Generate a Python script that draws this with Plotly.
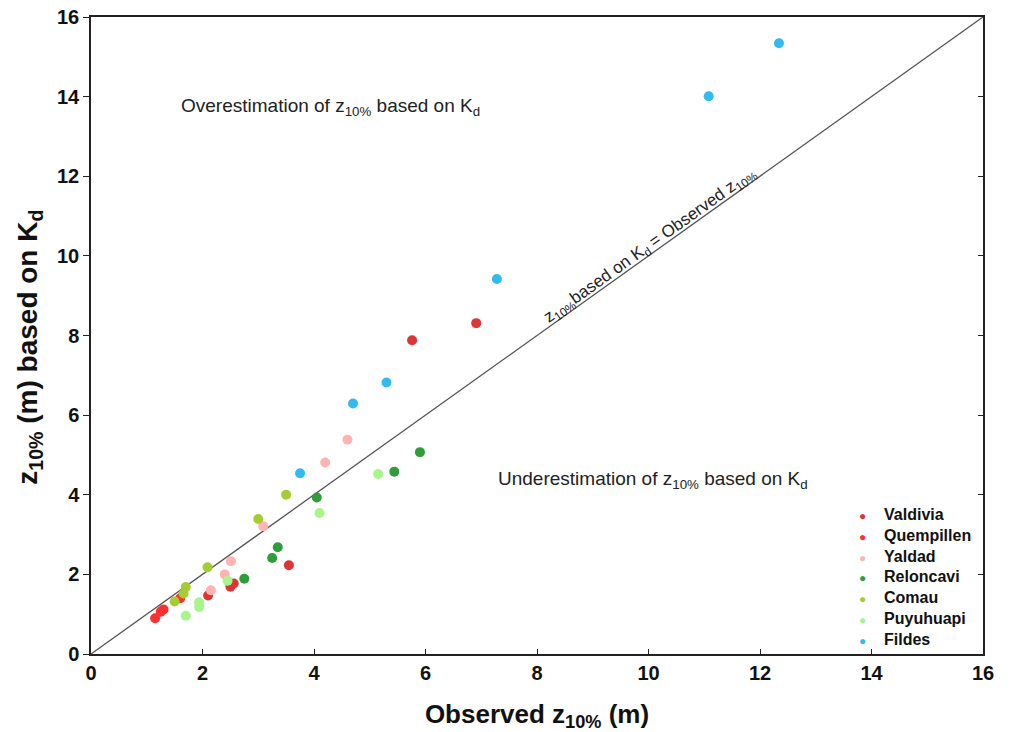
import plotly.graph_objects as go

sites = ["Valdivia", "Quempillen", "Yaldad", "Reloncavi", "Comau", "Puyuhuapi", "Fildes"]
colors = ["#dc3535", "#ff3030", "#ffb3b3", "#2e9e3a", "#a6cc33", "#a8f58a", "#33bbef"]

obs = {
    "Valdivia":   [5.76, 6.91, 3.55, 2.56, 2.50, 2.10],
    "Quempillen": [1.60, 1.30, 1.25, 1.15],
    "Yaldad":     [4.60, 4.20, 3.09, 2.51, 2.40, 2.15],
    "Reloncavi":  [5.90, 5.44, 4.05, 3.35, 3.25, 2.75],
    "Comau":      [3.50, 3.00, 2.09, 1.70, 1.66, 1.50],
    "Puyuhuapi":  [5.15, 4.10, 2.45, 1.94, 1.94, 1.70],
    "Fildes":     [12.34, 11.08, 7.28, 5.30, 4.70, 3.75],
}
kd = {
    "Valdivia":   [7.88, 8.31, 2.23, 1.77, 1.69, 1.47],
    "Quempillen": [1.40, 1.12, 1.06, 0.90],
    "Yaldad":     [5.38, 4.81, 3.21, 2.33, 2.00, 1.60],
    "Reloncavi":  [5.07, 4.58, 3.93, 2.68, 2.41, 1.89],
    "Comau":      [4.00, 3.39, 2.18, 1.68, 1.52, 1.32],
    "Puyuhuapi":  [4.52, 3.54, 1.84, 1.30, 1.18, 0.96],
    "Fildes":     [15.34, 14.01, 9.42, 6.82, 6.29, 4.54],
}
ticks = [0, 2, 4, 6, 8, 10, 12, 14, 16]
one_to_one = [0, 16]

fig = go.Figure()
fig.add_trace(go.Scatter(x=one_to_one, y=one_to_one, mode="lines",
                         line=dict(color="#555555", width=1.3),
                         showlegend=False, hoverinfo="skip"))
for s, c in zip(sites, colors):
    fig.add_trace(go.Scatter(x=obs[s], y=kd[s], mode="markers", name=s,
                             showlegend=False,
                             marker=dict(color=c, size=10, line=dict(width=0))))

fig.add_trace(go.Scatter(x=[None], y=[None], yaxis="y2", showlegend=False))

# compact legend (tight row spacing as in the reference)
legend_text = "<br>".join(
    f"<span style='color:{c};font-size:12px'>●</span>&nbsp;&nbsp;&nbsp;&nbsp;<b>{s}</b>"
    for s, c in zip(sites, colors)
)

font_fam = "Liberation Sans, Arial, sans-serif"
fig.update_layout(
    width=1003, height=724,
    margin=dict(l=83, r=28, t=9, b=78, autoexpand=False),
    paper_bgcolor="white", plot_bgcolor="white",
    font=dict(family=font_fam, color="#111111"),
    showlegend=False,
    xaxis=dict(range=[0, 16], tickvals=ticks, ticks="inside", ticklen=5,
               tickcolor="#222", showline=True, linecolor="#222", linewidth=1.5,
               mirror=True, showgrid=False, zeroline=False, automargin=False,
               ticklabeloverflow="allow",
               tickfont=dict(size=20, family=font_fam, color="#111", weight="bold"),
               title=dict(text="<b>Observed z<sub>10%</sub> (m)</b>",
                          font=dict(size=26), standoff=26)),
    yaxis=dict(range=[0, 16], tickvals=ticks, ticks="outside", ticklen=6,
               tickcolor="#222", showline=True, linecolor="#222", linewidth=1.5,
               mirror=True, showgrid=False, zeroline=False, automargin=False,
               ticklabeloverflow="allow",
               tickfont=dict(size=20, family=font_fam, color="#111", weight="bold"),
               title=dict(text="<b>z<sub>10%</sub> (m) based on K<sub>d</sub>&nbsp;&nbsp;&nbsp;</b>",
                          font=dict(size=28), standoff=11)),
    yaxis2=dict(range=[0, 16], tickvals=ticks, overlaying="y", side="right",
                ticks="inside", ticklen=5, tickcolor="#222", showticklabels=False,
                showgrid=False, zeroline=False, showline=False, automargin=False),
    annotations=[
        dict(x=4.29, y=13.74, text="Overestimation of z<sub>10%</sub> based on K<sub>d</sub>",
             showarrow=False, font=dict(size=19, color="#222")),
        dict(x=10.08, y=4.36, text="Underestimation of z<sub>10%</sub> based on K<sub>d</sub>",
             showarrow=False, font=dict(size=19, color="#222")),
        dict(x=10.03, y=10.24, text="z<sub>10%</sub>based on K<sub>d</sub> = Observed z<sub>10%</sub>",
             showarrow=False, textangle=-35.5, font=dict(size=17, color="#222")),
        dict(xref="paper", yref="paper", x=0.859, y=0.236, xanchor="left", yanchor="top",
             align="left", showarrow=False, text=legend_text,
             font=dict(size=16, family=font_fam, color="#111")),
    ],
)
fig.write_html("out.html")
